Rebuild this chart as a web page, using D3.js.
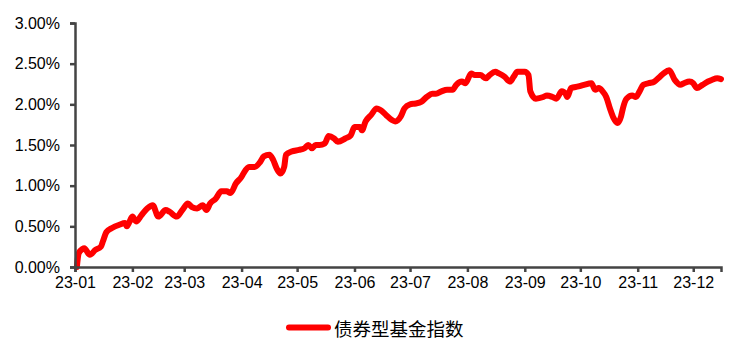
<!DOCTYPE html>
<html>
<head>
<meta charset="utf-8">
<script src="https://cdn.jsdelivr.net/npm/d3@7"></script>
<style>
  html, body { margin: 0; padding: 0; background: #fff; }
  svg { display: block; }
</style>
</head>
<body>
<svg id="chart" width="745" height="358"></svg>
<script>
// ---- data ----
const seriesName = "债券型基金指数";
const dates = [
  "2023-01-02","2023-01-03","2023-01-05","2023-01-06","2023-01-09","2023-01-12","2023-01-15","2023-01-16",
  "2023-01-18","2023-01-21","2023-01-25","2023-01-28","2023-01-29","2023-02-01","2023-02-03","2023-02-06",
  "2023-02-09","2023-02-12","2023-02-15","2023-02-19","2023-02-21","2023-02-25","2023-02-28","2023-03-03",
  "2023-03-05","2023-03-08","2023-03-11","2023-03-13","2023-03-15","2023-03-18","2023-03-21","2023-03-24",
  "2023-03-26","2023-03-29","2023-04-01","2023-04-02","2023-04-05","2023-04-08","2023-04-11","2023-04-13",
  "2023-04-16","2023-04-18","2023-04-20","2023-04-22","2023-04-24","2023-04-25","2023-04-28","2023-05-02",
  "2023-05-05","2023-05-07","2023-05-09","2023-05-11","2023-05-13","2023-05-16","2023-05-18","2023-05-21",
  "2023-05-23","2023-05-27","2023-05-30","2023-06-01","2023-06-04","2023-06-05","2023-06-07","2023-06-10",
  "2023-06-13","2023-06-15","2023-06-18","2023-06-21","2023-06-23","2023-06-26","2023-06-28","2023-07-01",
  "2023-07-04","2023-07-07","2023-07-10","2023-07-13","2023-07-15","2023-07-18","2023-07-21","2023-07-24",
  "2023-07-26","2023-07-29","2023-07-31","2023-08-03","2023-08-05","2023-08-08","2023-08-11","2023-08-13",
  "2023-08-16","2023-08-18","2023-08-21","2023-08-24","2023-08-26","2023-08-28","2023-09-01","2023-09-03",
  "2023-09-04","2023-09-07","2023-09-11","2023-09-13","2023-09-16","2023-09-18","2023-09-21","2023-09-23",
  "2023-09-24","2023-09-26","2023-09-30","2023-10-03","2023-10-07","2023-10-09","2023-10-11","2023-10-13",
  "2023-10-15","2023-10-17","2023-10-19","2023-10-21","2023-10-23","2023-10-24","2023-10-26","2023-10-29",
  "2023-10-31","2023-11-02","2023-11-04","2023-11-07","2023-11-10","2023-11-13","2023-11-15","2023-11-18",
  "2023-11-21","2023-11-24","2023-11-26","2023-11-29","2023-12-01","2023-12-03","2023-12-06","2023-12-09",
  "2023-12-11","2023-12-14","2023-12-16"
];
const values = [
  0.00,0.17,0.22,0.23,0.15,0.21,0.25,0.31,
  0.43,0.48,0.52,0.54,0.50,0.62,0.56,0.64,
  0.72,0.76,0.62,0.70,0.68,0.62,0.70,0.78,
  0.74,0.72,0.76,0.70,0.78,0.84,0.93,0.93,
  0.91,1.03,1.11,1.15,1.23,1.23,1.29,1.36,
  1.38,1.32,1.21,1.15,1.23,1.38,1.42,1.44,
  1.46,1.50,1.46,1.50,1.50,1.52,1.61,1.58,
  1.54,1.58,1.62,1.72,1.72,1.68,1.79,1.87,
  1.95,1.93,1.87,1.81,1.79,1.85,1.95,2.00,
  2.01,2.03,2.09,2.13,2.13,2.16,2.18,2.18,
  2.24,2.28,2.26,2.38,2.36,2.36,2.32,2.36,
  2.40,2.38,2.34,2.28,2.34,2.40,2.40,2.36,
  2.16,2.07,2.09,2.11,2.09,2.07,2.16,2.13,
  2.09,2.20,2.22,2.24,2.26,2.18,2.20,2.16,
  2.09,1.95,1.83,1.77,1.85,1.95,2.07,2.11,
  2.09,2.16,2.24,2.26,2.28,2.34,2.38,2.42,
  2.30,2.24,2.26,2.28,2.26,2.20,2.24,2.28,
  2.30,2.32,2.31
];
const yTicks = [0, 0.5, 1.0, 1.5, 2.0, 2.5, 3.0];
const xTickLabels = ["23-01","23-02","23-03","23-04","23-05","23-06","23-07","23-08","23-09","23-10","23-11","23-12"];
const xDomain = ["2023-01-01", "2023-12-16"];

// ---- build ----
(function () {
const parse = d3.timeParse("%Y-%m-%d");
const data = dates.map((d, i) => ({ date: parse(d), value: values[i] }));
const xTickDates = xTickLabels.map(l => parse("20" + l + "-01"));

const svg = d3.select("#chart");
const mLeft = 75, mRight = 721, mTop = 23, mBottom = 267;

const x = d3.scaleTime().domain(xDomain.map(parse)).range([mLeft, mRight]);
const y = d3.scaleLinear().domain([0, 3]).range([mBottom, mTop]);

const axisColor = "#444";
const font = "'Liberation Sans', Arial, sans-serif";

// line
const line = d3.line()
  .x(d => x(d.date))
  .y(d => y(d.value))
  .curve(d3.curveMonotoneX);

svg.append("path")
  .datum(data)
  .attr("d", line)
  .attr("fill", "none")
  .attr("stroke", "#ff0000")
  .attr("stroke-width", 6)
  .attr("stroke-linejoin", "round")
  .attr("stroke-linecap", "round");

// y axis
const yAxis = d3.axisLeft(y)
  .tickValues(yTicks)
  .tickSize(5)
  .tickPadding(10)
  .tickFormat(d => d.toFixed(2) + "%");
const gy = svg.append("g").attr("transform", `translate(${mLeft},0)`).call(yAxis);
gy.select(".domain").attr("stroke", axisColor).attr("stroke-width", 2.5);
gy.selectAll(".tick line").attr("stroke", axisColor).attr("stroke-width", 2.5);
gy.selectAll(".tick text").attr("fill", "#000").style("font-family", font).style("font-size", "16px");

// x axis
const xAxis = d3.axisBottom(x)
  .tickValues(xTickDates)
  .tickSize(5)
  .tickPadding(5)
  .tickFormat((d, i) => xTickLabels[i]);
const gx = svg.append("g").attr("transform", `translate(0,${mBottom})`).call(xAxis);
gx.select(".domain").attr("stroke", axisColor).attr("stroke-width", 2.5);
gx.selectAll(".tick line").attr("stroke", axisColor).attr("stroke-width", 2.5);
gx.selectAll(".tick text").attr("fill", "#000").style("font-family", font).style("font-size", "16px");

// legend
const lg = svg.append("g");
lg.append("line")
  .attr("x1", 289).attr("x2", 328)
  .attr("y1", 327.5).attr("y2", 327.5)
  .attr("stroke", "#ff0000")
  .attr("stroke-width", 6)
  .attr("stroke-linecap", "round");
lg.append("text")
  .attr("x", 334).attr("y", 327.5)
  .attr("dominant-baseline", "central")
  .style("font-family", "'Noto Sans CJK SC', sans-serif")
  .style("font-size", "18.5px")
  .attr("fill", "#000")
  .text(seriesName);
})();
</script>
</body>
</html>
